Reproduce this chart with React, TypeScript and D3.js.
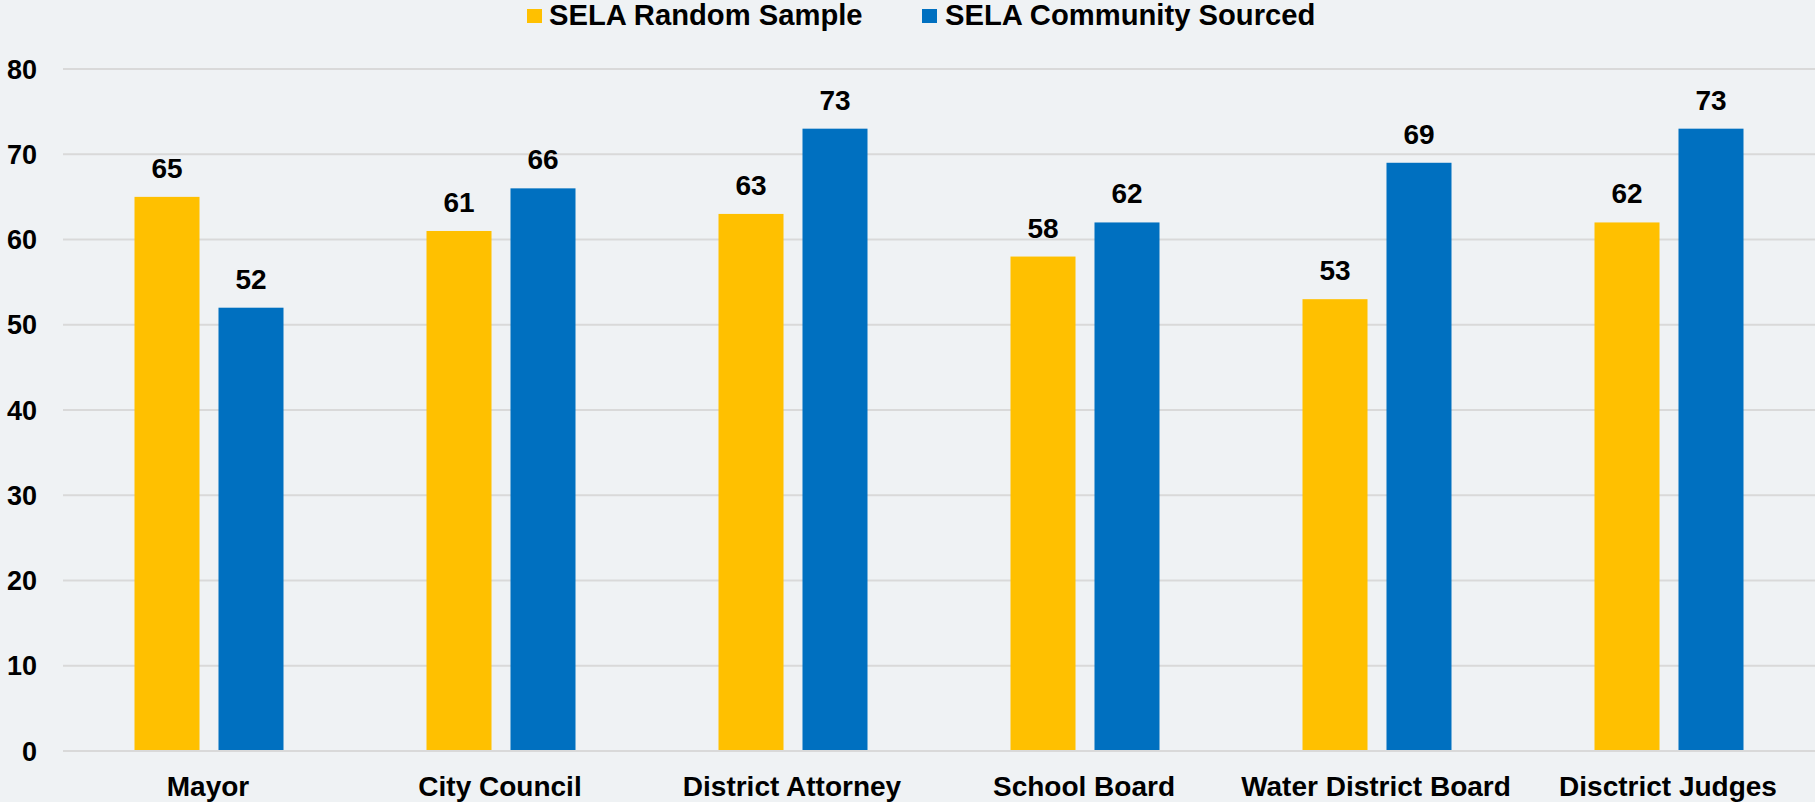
import React from "react";
import * as d3 from "d3";

const categories = ["Mayor", "City Council", "District Attorney", "School Board", "Water District Board", "Disctrict Judges"];
const seriesNames = ["SELA Random Sample", "SELA Community Sourced"];
const randomSample = [65, 61, 63, 58, 53, 62];
const communitySourced = [52, 66, 73, 62, 69, 73];
const yTicks = [0, 10, 20, 30, 40, 50, 60, 70, 80];

const W = 1815;
const H = 802;
const colors = ["#FFC000", "#0070C0"];
const FONT = "'Liberation Sans', Arial, Helvetica, sans-serif";

export default function App() {
  const left = 63;
  const right = W;
  const top = 69;
  const bottom = 751;

  const x0 = d3.scaleBand<string>().domain(categories).range([left, right]).padding(0);
  const x1 = d3
    .scaleBand<string>()
    .domain(seriesNames)
    .range([71.5, x0.bandwidth() - 71.5])
    .paddingInner(0.226)
    .paddingOuter(0);
  const y = d3.scaleLinear().domain([0, 80]).range([bottom, top]);

  const series = [randomSample, communitySourced];

  return (
    <svg
      width={W}
      height={H}
      style={{ position: "absolute", left: 0, top: 0, background: "#EFF2F4" }}
      fontFamily={FONT}
    >
      <rect x={0} y={0} width={W} height={H} fill="#EFF2F4" />
      {yTicks.map((t) => (
        <g key={t}>
          <line x1={left} x2={right} y1={y(t)} y2={y(t)} stroke="#D9D9D9" strokeWidth={2} />
          <text
            x={37}
            y={y(t)}
            dy="0.36em"
            textAnchor="end"
            fontSize={27}
            fontWeight="bold"
            fill="#000"
          >
            {t}
          </text>
        </g>
      ))}
      {categories.map((c, i) => (
        <g key={c} transform={`translate(${x0(c)},0)`}>
          {series.map((vals, s) => {
            const bx = x1(seriesNames[s])!;
            const v = vals[i];
            return (
              <g key={s}>
                <rect
                  x={bx}
                  y={y(v)}
                  width={x1.bandwidth()}
                  height={y(0) - y(v) - 1}
                  fill={colors[s]}
                />
                <text
                  x={bx + x1.bandwidth() / 2}
                  y={y(v) - 19}
                  textAnchor="middle"
                  fontSize={28}
                  fontWeight="bold"
                  fill="#000"
                >
                  {v}
                </text>
              </g>
            );
          })}
          <text
            x={x0.bandwidth() / 2 - 1}
            y={796}
            textAnchor="middle"
            fontSize={28}
            fontWeight="bold"
            fill="#000"
          >
            {c}
          </text>
        </g>
      ))}
      {/* legend */}
      <rect x={527} y={9} width={15} height={14} fill={colors[0]} />
      <text x={549} y={25} fontSize={29.2} fontWeight="bold" fill="#000">
        {seriesNames[0]}
      </text>
      <rect x={922} y={9} width={15} height={14} fill={colors[1]} />
      <text x={945} y={25} fontSize={29.2} fontWeight="bold" fill="#000">
        {seriesNames[1]}
      </text>
    </svg>
  );
}
